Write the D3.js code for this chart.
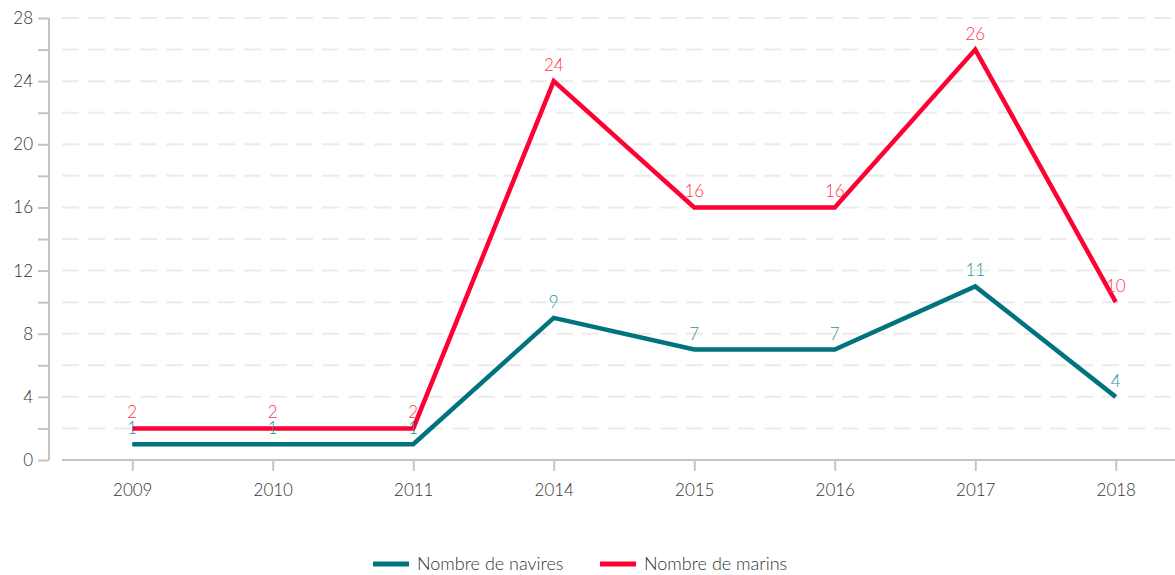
<!DOCTYPE html>
<html><head><meta charset="utf-8">
<script src="https://cdn.jsdelivr.net/npm/d3@7"></script>
<style>
body{margin:0;background:#fff;}
svg, svg text{font-family:"Lato","Open Sans","Noto Sans",sans-serif;}
</style></head>
<body><svg id="c" width="1175" height="575"></svg>
<script>
const years = ["2009","2010","2011","2014","2015","2016","2017","2018"];
const navires = [1,1,1,9,7,7,11,4];
const marins = [2,2,2,24,16,16,26,10];
const yTicks = [0,4,8,12,16,20,24,28];
const seriesNames = ["Nombre de navires","Nombre de marins"];
const lineColors = ["#00737f","#ff0033"];
const labelColors = ["#2f9198","#ff3355"];

const svg = d3.select("#c");
const x = d3.scalePoint().domain(years).range([62,1186]).padding(0.5);
const y = d3.scaleLinear().domain([0,28]).range([460,18]);

// gridlines
svg.append("g").selectAll("line").data(d3.range(2,29,2)).join("line")
  .attr("x1",62).attr("x2",1175).attr("y1",d=>y(d)).attr("y2",d=>y(d))
  .attr("stroke","#ebebeb").attr("stroke-width",2).attr("stroke-dasharray","17,9");

// y axis
const ya = svg.append("g").attr("transform","translate(49,0)")
  .call(d3.axisLeft(y).tickValues(d3.range(0,29,2)).tickSize(11).tickPadding(5)
    .tickFormat(d=>yTicks.includes(d)?d:""));
ya.attr("font-family",null).attr("font-size",null);
ya.select(".domain").attr("stroke","#c4c4c4").attr("stroke-width",2).attr("d","M0,"+y(28)+"V"+y(0));
ya.selectAll(".tick line").attr("stroke","#c4c4c4").attr("stroke-width",2);
ya.selectAll(".tick text").attr("font-size",17).attr("fill","#333").attr("font-weight",300);

// x axis
const xa = svg.append("g").attr("transform","translate(0,460)")
  .call(d3.axisBottom(x).tickSize(11).tickPadding(13));
xa.attr("font-family",null).attr("font-size",null);
xa.select(".domain").attr("stroke","#c4c4c4").attr("stroke-width",2).attr("d","M62,0H1175");
xa.selectAll(".tick line").attr("stroke","#c4c4c4").attr("stroke-width",2);
xa.selectAll(".tick text").attr("font-size",17).attr("fill","#333").attr("font-weight",300);

const series = [navires, marins];
const line = d3.line().x((d,i)=>x(years[i])).y(d=>y(d));
series.forEach((s,k)=>{
  svg.append("path").datum(s).attr("d",line).attr("fill","none")
    .attr("stroke",lineColors[k]).attr("stroke-width",4.5).attr("stroke-linejoin","miter");
});
series.forEach((s,k)=>{
  svg.append("g").selectAll("text").data(s).join("text")
    .attr("x",(d,i)=>x(years[i])).attr("y",d=>y(d)-10)
    .attr("text-anchor","middle").attr("font-size",17).attr("font-weight",300)
    .attr("fill",labelColors[k]).text(d=>d);
});

// legend
const leg = [{x:373,tx:417},{x:600,tx:644}];
seriesNames.forEach((n,k)=>{
  svg.append("line").attr("x1",leg[k].x).attr("x2",leg[k].x+36).attr("y1",564).attr("y2",564)
    .attr("stroke",lineColors[k]).attr("stroke-width",5);
  svg.append("text").attr("x",leg[k].tx).attr("y",570).attr("font-size",18).attr("font-weight",300)
    .attr("fill","#333").text(n);
});
</script></body></html>
